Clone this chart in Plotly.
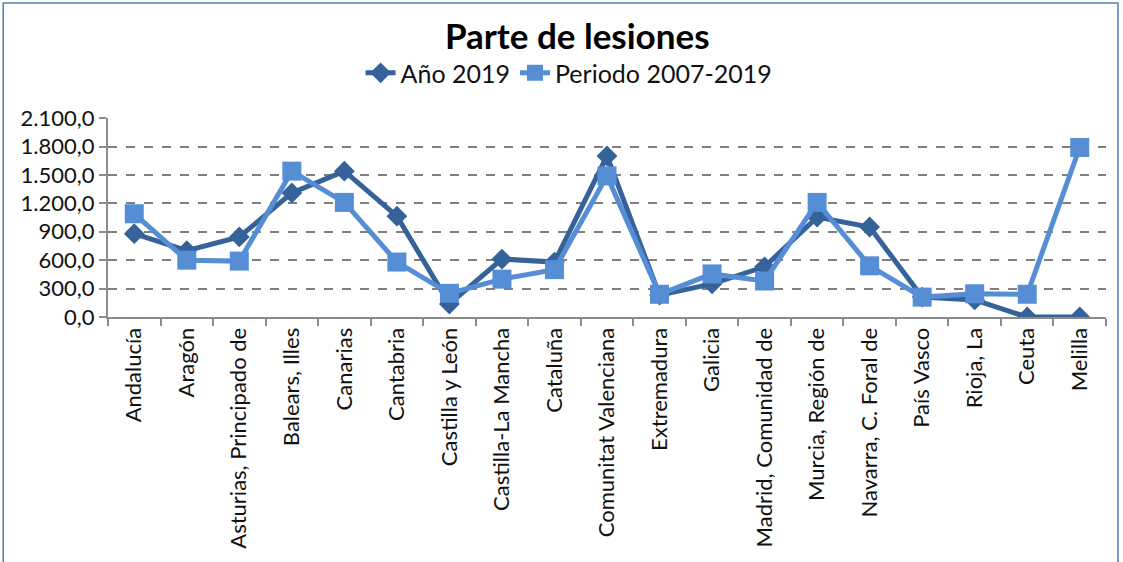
import plotly.graph_objects as go

categories = ["Andalucía", "Aragón", "Asturias, Principado de", "Balears, Illes", "Canarias",
              "Cantabria", "Castilla y León", "Castilla-La Mancha", "Cataluña",
              "Comunitat Valenciana", "Extremadura", "Galicia", "Madrid, Comunidad de",
              "Murcia, Región de", "Navarra, C. Foral de", "País Vasco", "Rioja, La",
              "Ceuta", "Melilla"]
anio_2019 = [880, 700, 845, 1310, 1540, 1065, 137, 612, 580, 1700, 230, 350, 530, 1055, 950, 210, 180, 0, 0]
periodo_2007_2019 = [1090, 600, 590, 1540, 1210, 580, 250, 400, 500, 1490, 240, 455, 380, 1210, 540, 210, 245, 240, 1790]
y_ticks = [0, 300, 600, 900, 1200, 1500, 1800, 2100]

dark = "#36629A"
light = "#558ED5"
font = "Lato"

fig = go.Figure()
fig.add_trace(go.Scatter(x=categories, y=anio_2019, name="Año 2019", mode="lines+markers",
                         line=dict(color=dark, width=5),
                         marker=dict(symbol="diamond", size=16, color=dark)))
fig.add_trace(go.Scatter(x=categories, y=periodo_2007_2019, name="Periodo 2007-2019", mode="lines+markers",
                         line=dict(color=light, width=5),
                         marker=dict(symbol="square", size=19, color=light)))

fig.update_layout(
    width=1123, height=562,
    margin=dict(l=108, r=17, t=118, b=245),
    paper_bgcolor="white", plot_bgcolor="white",
    separators=",.",
    font=dict(family=font, size=20, color="#111111"),
    title=dict(text="<b>Parte de lesiones</b>", x=0.514, xanchor="center", y=0.934, yanchor="middle",
               font=dict(size=35, family=font, color="#000000")),
    legend=dict(orientation="h", x=0.462, xanchor="center", y=1.226, yanchor="middle",
                font=dict(size=25, family=font, color="#111111"), traceorder="normal",
                bgcolor="rgba(0,0,0,0)"),
    showlegend=True,
)
fig.update_xaxes(type="category", range=[-0.5, len(categories) - 0.5], tickangle=-90,
                 tickson="boundaries", ticks="outside", ticklen=7,
                 tickcolor="#8C8C8C", tickwidth=1.5, showline=True, linecolor="#8C8C8C", linewidth=2,
                 showgrid=False, tickfont=dict(size=22, family=font, color="#111111"))
fig.update_yaxes(range=[0, 2101], tickvals=y_ticks, tickformat=",.1f", ticks="outside", ticklen=7,
                 tickcolor="#8C8C8C", tickwidth=1.5, showline=True, linecolor="#8C8C8C", linewidth=2,
                 showgrid=True, gridcolor="#808080", griddash="dash", gridwidth=2,
                 zeroline=False, tickfont=dict(size=22, family=font, color="#111111"))
fig.add_shape(type="rect", xref="paper", yref="paper", x0=-0.105, x1=1.012, y0=-1.27, y1=1.578,
              line=dict(color="#4F81BD", width=1.5), fillcolor="rgba(0,0,0,0)")
fig.write_html("out.html", config={"displayModeBar": False},
               post_script="document.body.style.margin='0px';")
